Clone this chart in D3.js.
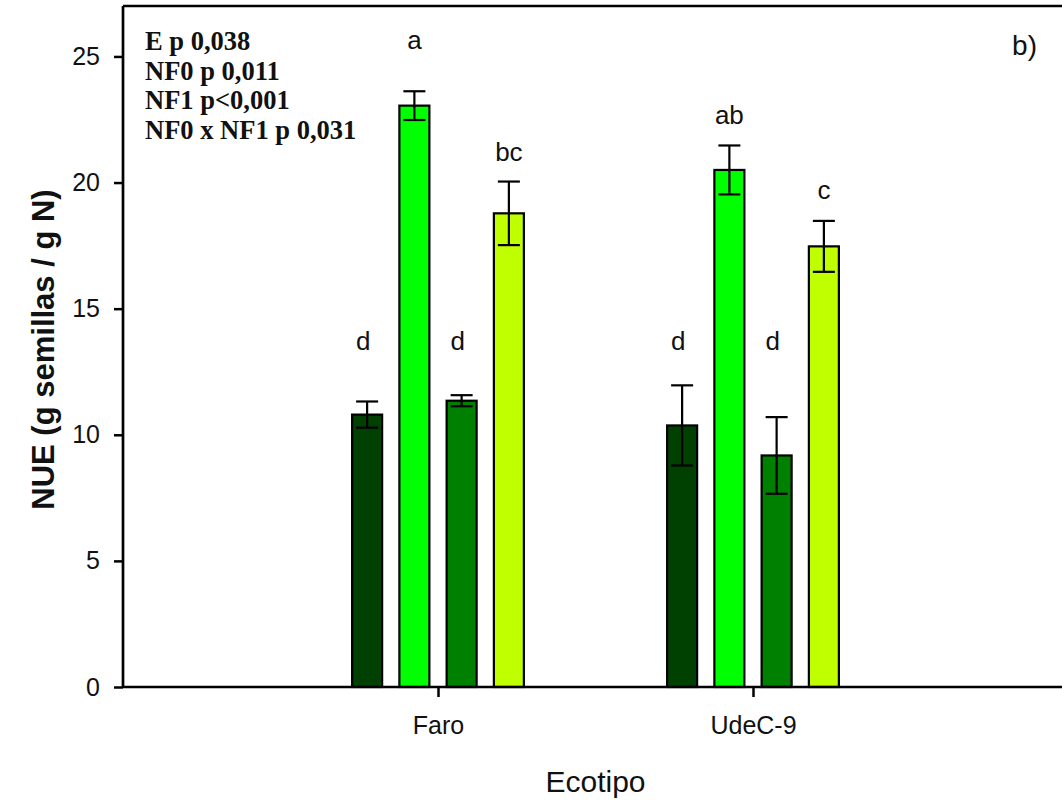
<!DOCTYPE html>
<html>
<head>
<meta charset="utf-8">
<script src="https://cdn.jsdelivr.net/npm/d3@7"></script>
<style>
  html, body { margin: 0; padding: 0; background: #fff; }
  svg { display: block; }
</style>
</head>
<body>
<svg id="chart" width="1062" height="804"></svg>
<script>
// Ecotypes on the x axis and the four treatment series drawn in each group
const ecotipos = ["Faro", "UdeC-9"];
const series = ["s1", "s2", "s3", "s4"];
const seriesColors = ["#004000", "#00ff00", "#008000", "#c0ff00"];

// NUE means and standard errors, per ecotype, in series order
const faroMeans = [10.8, 23.05, 11.35, 18.78];
const faroErr = [0.52, 0.57, 0.22, 1.26];
const udecMeans = [10.37, 20.5, 9.18, 17.47];
const udecErr = [1.59, 0.97, 1.52, 1.01];

// Significance letters and the level (in NUE units) where each is written
const faroLetters = ["d", "a", "d", "bc"];
const udecLetters = ["d", "ab", "d", "c"];
const faroLetterLevel = [13.35, 25.3, 13.35, 20.86];
const udecLetterLevel = [13.35, 22.31, 13.35, 19.34];

const yTicks = [0, 5, 10, 15, 20, 25];
const statsLines = ["E p 0,038", "NF0 p 0,011", "NF1 p<0,001", "NF0 x NF1 p 0,031"];

const groups = [
  { name: ecotipos[0], means: faroMeans, err: faroErr, letters: faroLetters, level: faroLetterLevel },
  { name: ecotipos[1], means: udecMeans, err: udecErr, letters: udecLetters, level: udecLetterLevel }
];

const svg = d3.select("#chart");
const plotL = 123, plotR = 1068, plotT = 6, plotB = 687;

const x = d3.scalePoint().domain(ecotipos).range([plotL, plotR]).padding(1);
const inner = d3.scaleBand().domain(series).range([-94.5, 94.5]).paddingInner(0.365).paddingOuter(0.1825);
const y = d3.scaleLinear().domain([0, 27]).range([plotB, plotT]);

svg.append("rect").attr("width", 1062).attr("height", 804).attr("fill", "#fff");

// Bars, error bars and letters
const g = svg.append("g");
groups.forEach(grp => {
  const cx = x(grp.name);
  series.forEach((s, i) => {
    const bx = cx + inner(s);
    const bw = inner.bandwidth();
    const mid = bx + bw / 2;
    const v = grp.means[i], e = grp.err[i];
    g.append("rect")
      .attr("x", bx).attr("y", y(v))
      .attr("width", bw).attr("height", y(0) - y(v))
      .attr("fill", seriesColors[i])
      .attr("stroke", "#000").attr("stroke-width", 2.2);
    const cap = 11;
    g.append("line").attr("x1", mid).attr("x2", mid).attr("y1", y(v + e)).attr("y2", y(v - e))
      .attr("stroke", "#000").attr("stroke-width", 2.2);
    [v + e, v - e].forEach(t => {
      g.append("line").attr("x1", mid - cap).attr("x2", mid + cap).attr("y1", y(t)).attr("y2", y(t))
        .attr("stroke", "#000").attr("stroke-width", 2.2);
    });
    g.append("text")
      .attr("x", mid - (grp.letters[i] === "d" ? 4 : 0)).attr("y", y(grp.level[i]))
      .attr("text-anchor", "middle")
      .attr("font-family", "Liberation Sans, Arial, sans-serif")
      .attr("font-size", 26)
      .attr("fill", "#111")
      .text(grp.letters[i]);
  });
});

// Axes
const yAxis = d3.axisLeft(y).tickValues(yTicks).tickSize(9).tickPadding(14).tickFormat(d3.format("d"));
const ya = svg.append("g").attr("transform", `translate(${plotL},0)`).call(yAxis);
ya.select(".domain").remove();
ya.selectAll(".tick line").attr("stroke", "#000").attr("stroke-width", 2.5);
ya.selectAll(".tick text").attr("font-family", "Liberation Sans, Arial, sans-serif").attr("font-size", 25).attr("fill", "#111");

const xAxis = d3.axisBottom(x).tickSize(10).tickPadding(19);
const xa = svg.append("g").attr("transform", `translate(0,${plotB})`).call(xAxis);
xa.select(".domain").remove();
xa.selectAll(".tick line").attr("stroke", "#000").attr("stroke-width", 2.5);
xa.selectAll(".tick text").attr("font-family", "Liberation Sans, Arial, sans-serif").attr("font-size", 25).attr("fill", "#111");

// Frame: left, top and bottom spines
svg.append("line").attr("x1", plotL).attr("x2", plotL).attr("y1", plotT).attr("y2", plotB).attr("stroke", "#000").attr("stroke-width", 2.7);
svg.append("line").attr("x1", plotL).attr("x2", plotR).attr("y1", plotT).attr("y2", plotT).attr("stroke", "#000").attr("stroke-width", 2.7);
svg.append("line").attr("x1", plotL).attr("x2", plotR).attr("y1", plotB).attr("y2", plotB).attr("stroke", "#000").attr("stroke-width", 2.7);

// Axis titles
svg.append("text")
  .attr("x", (plotL + plotR) / 2).attr("y", 792)
  .attr("text-anchor", "middle")
  .attr("font-family", "Liberation Sans, Arial, sans-serif")
  .attr("font-size", 30).attr("fill", "#111")
  .text("Ecotipo");

svg.append("text")
  .attr("transform", `translate(54,${(plotT + plotB) / 2 + 3}) rotate(-90)`)
  .attr("text-anchor", "middle")
  .attr("font-family", "Liberation Sans, Arial, sans-serif")
  .attr("font-weight", "bold")
  .attr("font-size", 31).attr("fill", "#111")
  .text("NUE (g semillas / g N)");

// Panel tag
svg.append("text")
  .attr("x", 1037).attr("y", 55)
  .attr("text-anchor", "end")
  .attr("font-family", "Liberation Sans, Arial, sans-serif")
  .attr("font-size", 28).attr("fill", "#111")
  .text("b)");

// ANOVA summary
const stats = svg.append("text")
  .attr("font-family", "Liberation Serif, Times New Roman, serif")
  .attr("font-weight", "bold")
  .attr("font-size", 26.5).attr("fill", "#111");
statsLines.forEach((s, i) => {
  stats.append("tspan").attr("x", 145).attr("y", 50 + i * 29.5).text(s);
});
</script>
</body>
</html>
